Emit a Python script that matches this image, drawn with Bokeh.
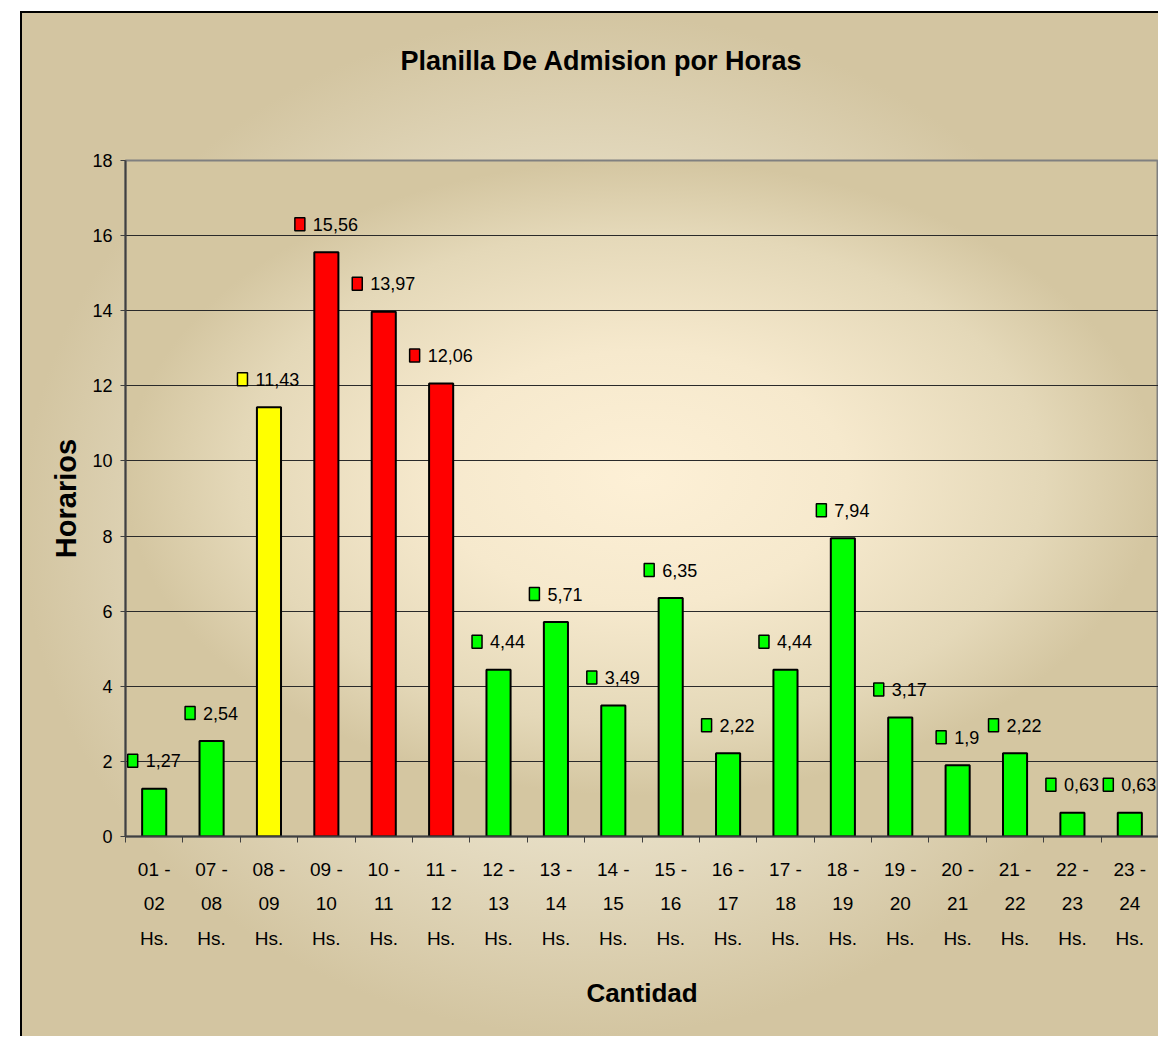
import numpy as np
from bokeh.plotting import figure
from bokeh.models import ColumnDataSource, FixedTicker, CustomJSTickFormatter, Title
from bokeh.embed import file_html
from bokeh.resources import INLINE
from bokeh.core.properties import value

# ---------------- data ----------------
categories = ["01 - 02 Hs.", "07 - 08 Hs.", "08 - 09 Hs.", "09 - 10 Hs.", "10 - 11 Hs.",
              "11 - 12 Hs.", "12 - 13 Hs.", "13 - 14 Hs.", "14 - 15 Hs.", "15 - 16 Hs.",
              "16 - 17 Hs.", "17 - 18 Hs.", "18 - 19 Hs.", "19 - 20 Hs.", "20 - 21 Hs.",
              "21 - 22 Hs.", "22 - 23 Hs.", "23 - 24 Hs."]
values = [1.27, 2.54, 11.43, 15.56, 13.97, 12.06, 4.44, 5.71, 3.49, 6.35,
          2.22, 4.44, 7.94, 3.17, 1.9, 2.22, 0.63, 0.63]
value_labels = ["1,27", "2,54", "11,43", "15,56", "13,97", "12,06", "4,44", "5,71", "3,49",
                "6,35", "2,22", "4,44", "7,94", "3,17", "1,9", "2,22", "0,63", "0,63"]
bar_colors = ["#00FF00", "#00FF00", "#FFFF00", "#FF0000", "#FF0000", "#FF0000",
              "#00FF00", "#00FF00", "#00FF00", "#00FF00", "#00FF00", "#00FF00",
              "#00FF00", "#00FF00", "#00FF00", "#00FF00", "#00FF00", "#00FF00"]
y_ticks = [0, 2, 4, 6, 8, 10, 12, 14, 16, 18]
title_text = "Planilla De Admision por Horas"
y_title = "Horarios"
x_title = "Cantidad"

# ---------------- layout constants ----------------
W, H = 1158, 1036
ML, MR, MT, MB = 125, 0, 160, H - 836
FW, FH = W - ML - MR, H - MT - MB
n = len(categories)
px_per_cat = FW / n
px_per_unit = FH / 18.0
FONT = "Liberation Sans"

x_centers = np.arange(n) + 0.5
tick_labels = [c.replace(" - ", " -\n").replace(" Hs.", "\nHs.") for c in categories]

# label geometry (legend key square + value text, centred over bar)
SQ_W, SQ_H, GAP, LIFT = 10, 13, 8, 28
def text_width(s):
    return sum(5.0 if ch == "," else 10.0 for ch in s)
tw = np.array([text_width(s) for s in value_labels])
total = SQ_W + GAP + tw
sq_off_px = -total / 2 + SQ_W / 2
txt_off_px = -total / 2 + SQ_W + GAP

src = ColumnDataSource(dict(
    x=x_centers, top=values, color=bar_colors, lab=value_labels,
    txt_off=txt_off_px,
    sq_x=x_centers + sq_off_px / px_per_cat,
    sq_y=np.array(values) + LIFT / px_per_unit,
))

p = figure(width=W, height=H, x_range=(0, n), y_range=(0, 18),
           output_backend="svg", toolbar_location=None,
           min_border_left=ML, min_border_right=MR, min_border_top=MT, min_border_bottom=MB)
p.background_fill_color = None
p.border_fill_color = None
p.outline_line_color = "#808080"
p.outline_line_width = 2
p.title.text = ""
p.title.visible = False

bg = ", ".join([
    f"linear-gradient(#000,#000) 20px 11px / 2px {H}px no-repeat",
    f"linear-gradient(#000,#000) 20px 11px / {W}px 2px no-repeat",
    f"radial-gradient(ellipse closest-side at 50% 47%, #fdf0d6 0%, #f6e9cd 40%, #e4d8b8 78%, #d4c6a1 100%) {ML}px {MT}px / {FW}px {FH}px no-repeat",
    f"radial-gradient(ellipse closest-side at 50% 50%, #f2ebd8 0%, #e7dec5 60%, #d3c5a1 100%) 22px 13px / {W - 22}px {H - 13}px no-repeat",
    "#ffffff",
])
p.styles = {"background": bg}

# blank spacer panel between the frame and the title (inner), then the title (outer)
p.add_layout(Title(text=" ", text_font_size="1px", standoff=77), "above")
p.add_layout(Title(text=title_text, align="left", offset=400 - ML, standoff=10,
                   text_font=FONT, text_font_style="bold", text_font_size="27px",
                   text_color="black"), "above")

# grid
p.xgrid.visible = False
p.ygrid.ticker = FixedTicker(ticks=y_ticks[1:-1])
p.ygrid.grid_line_color = "#2a2a2a"
p.ygrid.grid_line_width = 1

# bars
p.vbar(x="x", top="top", width=0.42, source=src, fill_color="color",
       line_color="black", line_width=2)

# data labels
p.rect(x="sq_x", y="sq_y", width=SQ_W, height=SQ_H, width_units="screen",
       height_units="screen", source=src, fill_color="color", line_color="black",
       line_width=1.5)
p.text(x="x", y="top", text="lab", source=src, x_offset="txt_off", y_offset=-LIFT,
       text_align="left", text_baseline="middle", text_font=value(FONT),
       text_font_size="18px", text_color="black")

# y axis
ya = p.yaxis[0]
ya.ticker = FixedTicker(ticks=y_ticks, minor_ticks=[])
ya.axis_line_color = "#404040"
ya.axis_line_width = 2
ya.major_tick_line_color = "#404040"
ya.major_tick_out = 5
ya.major_tick_in = 0
ya.major_label_standoff = 8
ya.major_label_text_font = FONT
ya.major_label_text_font_size = "18px"
ya.major_label_text_color = "black"
ya.axis_label = y_title
ya.axis_label_text_font = FONT
ya.axis_label_text_font_style = "bold"
ya.axis_label_text_font_size = "29px"
ya.axis_label_text_color = "black"
ya.axis_label_standoff = 7

# x axis
xa = p.xaxis[0]
xa.ticker = FixedTicker(ticks=list(x_centers), minor_ticks=list(range(n + 1)))
xa.formatter = CustomJSTickFormatter(args=dict(labels=tick_labels),
                                     code="return labels[Math.floor(tick)]")
xa.axis_line_color = "#404040"
xa.axis_line_width = 2
xa.major_tick_line_color = None
xa.major_tick_out = 0
xa.major_tick_in = 0
xa.minor_tick_line_color = "#404040"
xa.minor_tick_out = 6
xa.minor_tick_in = 0
xa.major_label_standoff = 16
xa.major_label_text_font = FONT
xa.major_label_text_font_size = "19px"
xa.major_label_text_line_height = 1.65
xa.major_label_text_color = "black"
xa.axis_label = x_title
xa.axis_label_text_font = FONT
xa.axis_label_text_font_style = "bold"
xa.axis_label_text_font_size = "26px"
xa.axis_label_text_color = "black"
xa.axis_label_standoff = 26

open("out.html", "w").write(file_html(p, INLINE))
